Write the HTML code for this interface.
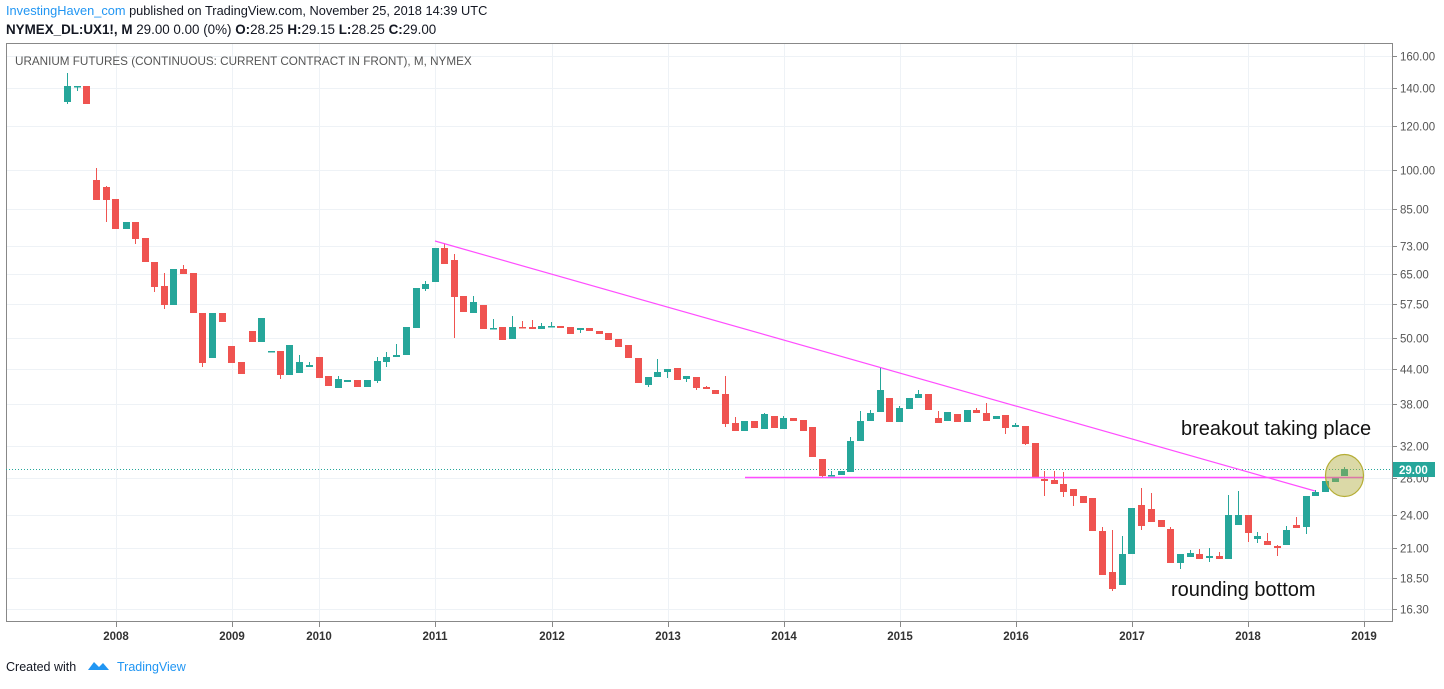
<!DOCTYPE html>
<html><head><meta charset="utf-8"><style>
body{margin:0;background:#fff;width:1444px;height:684px;overflow:hidden;font-family:"Liberation Sans",Arial,sans-serif}
</style></head><body>
<svg width="1444" height="684" xmlns="http://www.w3.org/2000/svg" font-family="Liberation Sans, Arial, sans-serif">
<text x="6" y="15" font-size="12.8" fill="#2196f3">InvestingHaven_com <tspan fill="#131722">published on TradingView.com, November 25, 2018 14:39 UTC</tspan></text>
<text x="6" y="34" font-size="13.4" fill="#131722"><tspan font-weight="bold">NYMEX_DL:UX1!, M</tspan> 29.00 0.00 (0%) <tspan font-weight="bold">O:</tspan>28.25 <tspan font-weight="bold">H:</tspan>29.15 <tspan font-weight="bold">L:</tspan>28.25 <tspan font-weight="bold">C:</tspan>29.00</text>
<g id="grid" stroke="#eef2f6" stroke-width="1"></g>
<rect x="6.5" y="43.5" width="1386" height="578" fill="none" stroke="#888" stroke-width="1"/>
<text x="15" y="65" font-size="11.7" fill="#555">URANIUM FUTURES (CONTINUOUS: CURRENT CONTRACT IN FRONT), M, NYMEX</text>
<g id="ylab" font-size="11.5" fill="#555"></g>
<g id="xlab" font-size="11.5" fill="#333" font-weight="bold" text-anchor="middle"></g>
<line x1="6" y1="469.5" x2="1392" y2="469.5" stroke="#26a69a" stroke-width="1" stroke-dasharray="1,2"/>
<g id="candles"></g>
<line x1="435" y1="241" x2="1315" y2="491" stroke="#ff4dff" stroke-width="1.2"/>
<line x1="745" y1="477.5" x2="1363" y2="477.5" stroke="#ff4dff" stroke-width="1.5"/>
<ellipse cx="1344.5" cy="475.5" rx="19" ry="21" fill="rgba(175,170,60,0.45)" stroke="#b5ad35" stroke-width="1.2"/>
<text x="1181" y="435" font-size="20" fill="#111">breakout taking place</text>
<text x="1171" y="596" font-size="20" fill="#111">rounding bottom</text>
<rect x="1393" y="462" width="42" height="15" fill="#26a69a"/>
<text x="1399" y="474" font-size="11.5" font-weight="bold" fill="#fff">29.00</text>
<text x="6" y="671" font-size="12.5" fill="#131722">Created with</text>
<path d="M88 670 l6 -8 l5 5 l4 -4 l6 7 z" fill="#2196f3"/>
<text x="117" y="671" font-size="12.5" fill="#2196f3">TradingView</text>
</svg>
<script>
var NS="http://www.w3.org/2000/svg";
function el(p,t,a,txt){var e=document.createElementNS(NS,t);for(var k in a)e.setAttribute(k,a[k]);if(txt)e.textContent=txt;document.getElementById(p).appendChild(e);}
function Y(p){return 56+(Math.log(160)-Math.log(p))*242.1;}
var ticks=[160,140,120,100,85,73,65,57.5,50,44,38,32,28,24,21,18.5,16.3];
ticks.forEach(function(t){var y=Math.round(Y(t))+0.5;el("grid","line",{x1:6,x2:1392,y1:y,y2:y});
el("ylab","line",{x1:1392,x2:1397,y1:y,y2:y,stroke:"#888"});
el("ylab","text",{x:1400,y:y+4},t.toFixed(2));});
var yrs=[[116,2008],[232,2009],[319,2010],[435,2011],[552,2012],[668,2013],[784,2014],[900,2015],[1016,2016],[1132,2017],[1248,2018],[1364,2019]];
yrs.forEach(function(a){el("grid","line",{x1:a[0]+.5,x2:a[0]+.5,y1:44,y2:622});
el("xlab","line",{x1:a[0]+.5,x2:a[0]+.5,y1:622,y2:627,stroke:"#888"});
el("xlab","text",{x:a[0],y:640},a[1]);});
var C=[
[67,86,102,73,104,'g'],[77,86,87,86,91,'g'],[86,86,104,86,104,'r'],[96,180,200,168,200,'r'],[106,187,200,186,222,'r'],
[115,199,229,199,229,'r'],[126,222,229,222,229,'g'],[135,222,239,222,244,'r'],[145,238,262,238,262,'r'],[154,262,287,262,292,'r'],
[164,286,305,273,309,'r'],[173,269,305,269,305,'g'],[183,269,274,265,274,'r'],[193,273,313,273,313,'r'],[202,313,363,313,367,'r'],
[212,313,358,313,358,'g'],[222,313,322,313,322,'r'],[231,346,363,346,363,'r'],[241,362,374,362,374,'r'],[252,331,342,331,342,'r'],
[261,318,342,318,342,'g'],[271,351,352,351,352,'g'],[280,351,375,351,379,'r'],[289,345,375,345,375,'g'],[299,362,373,355,373,'g'],
[309,365,367,362,367,'g'],[319,357,378,357,378,'r'],[328,376,386,376,386,'r'],[338,379,388,376,388,'g'],[347,380,382,380,382,'g'],
[357,380,387,380,387,'r'],[367,380,387,380,387,'g'],[377,361,381,357,383,'g'],[386,357,362,352,367,'g'],[396,355,357,344,357,'g'],
[406,327,355,327,355,'g'],[416,288,328,288,328,'g'],[425,284,289,281,291,'g'],[435,248,282,248,282,'g'],[444,248,264,243,264,'r'],
[454,260,297,254,338,'r'],[463,296,312,296,312,'r'],[473,302,313,296,313,'g'],[483,305,329,305,329,'r'],[493,328,329,319,329,'g'],
[502,327,340,327,340,'r'],[512,327,339,316,339,'g'],[522,327,328,321,328,'r'],[532,327,329,320,329,'r'],[541,326,329,323,329,'g'],
[551,326,327,322,327,'g'],[560,326,328,326,328,'r'],[570,327,334,327,334,'r'],[580,328,330,328,333,'g'],[589,328,331,328,331,'r'],
[599,331,334,331,334,'r'],[608,333,340,333,340,'r'],[618,339,347,339,347,'r'],[628,345,358,345,358,'r'],[638,358,383,358,383,'r'],
[648,377,385,377,387,'g'],[657,372,377,359,377,'g'],[667,369,372,369,378,'g'],[677,368,380,368,380,'r'],[686,376,379,376,382,'g'],
[696,377,388,377,390,'r'],[706,387,389,386,389,'r'],[715,390,394,390,394,'r'],[725,394,424,376,427,'r'],[735,423,431,417,431,'r'],
[744,421,431,421,431,'g'],[754,421,428,421,428,'r'],[764,414,429,413,429,'g'],[774,416,428,416,428,'r'],[783,418,429,416,429,'g'],
[793,418,421,418,421,'r'],[803,420,431,420,431,'r'],[812,427,457,427,457,'r'],[822,459,476,459,478,'r'],[831,475,476,471,476,'g'],
[841,471,475,471,475,'g'],[850,441,472,437,472,'g'],[860,421,441,411,441,'g'],[870,413,421,410,421,'g'],[880,390,412,367,412,'g'],
[889,398,422,398,422,'r'],[899,408,422,406,422,'g'],[909,398,409,398,409,'g'],[918,394,398,390,398,'g'],[928,394,410,394,410,'r'],
[938,418,423,411,423,'r'],[947,412,421,412,421,'g'],[957,414,422,414,422,'r'],[967,410,422,410,422,'g'],[976,410,413,408,413,'r'],
[986,413,421,403,421,'r'],[996,416,419,416,419,'g'],[1005,415,428,415,434,'r'],[1015,425,427,423,427,'g'],[1025,426,444,426,445,'r'],
[1035,443,478,443,478,'r'],[1044,479,481,471,496,'r'],[1054,480,484,471,484,'r'],[1063,484,492,472,497,'r'],[1073,489,496,489,506,'r'],
[1083,496,503,496,503,'r'],[1092,498,531,498,531,'r'],[1102,531,575,527,575,'r'],[1112,572,589,530,591,'r'],[1122,554,585,536,585,'g'],
[1131,508,554,508,554,'g'],[1141,505,526,488,530,'r'],[1151,509,522,493,522,'r'],[1161,520,527,520,527,'r'],[1170,529,563,527,563,'r'],
[1180,554,563,554,569,'g'],[1190,553,557,550,557,'g'],[1199,554,559,549,559,'r'],[1209,556,558,548,562,'g'],[1219,556,559,552,559,'r'],
[1228,515,559,495,559,'g'],[1238,515,525,491,525,'g'],[1248,515,533,515,542,'r'],[1257,536,539,532,543,'g'],[1267,541,545,533,545,'r'],
[1277,546,548,545,556,'r'],[1286,530,545,526,545,'g'],[1296,525,528,517,528,'r'],[1306,496,527,496,534,'g'],[1315,492,496,490,496,'g'],
[1325,481,492,481,492,'g'],[1335,477,482,477,482,'g'],[1344,469,476,467,476,'g']];
C.forEach(function(c){var col=c[5]=='g'?'#26a69a':'#ef5350';
el("candles","line",{x1:c[0]+.5,x2:c[0]+.5,y1:c[3],y2:c[4],stroke:col,"stroke-width":1});
el("candles","rect",{x:c[0]-3,y:c[1],width:7,height:Math.max(1.5,c[2]-c[1]),fill:col});});
</script>
</body></html>
